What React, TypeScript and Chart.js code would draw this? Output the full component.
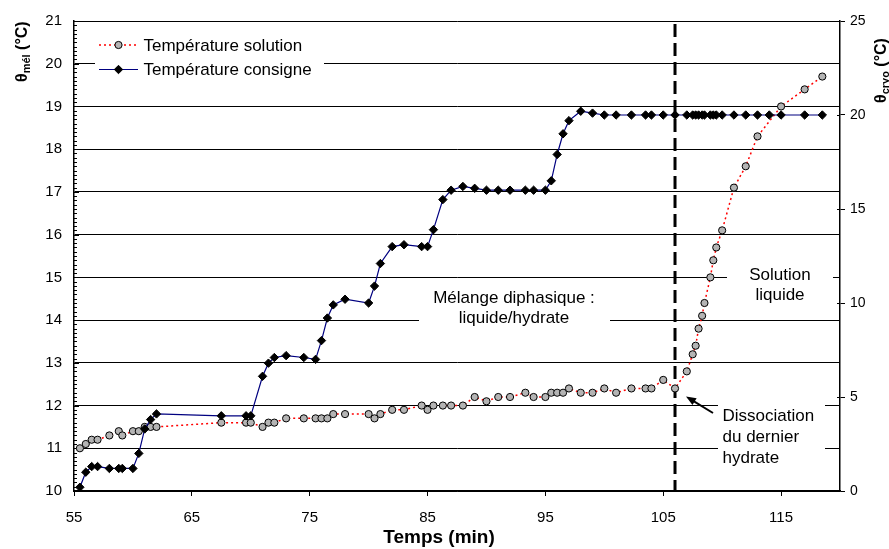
import React, { useEffect, useRef } from 'react';
import { Chart, registerables } from 'chart.js';

Chart.register(...registerables);

// ---- Data ----
const solutionTime = [55.5, 56.0, 56.5, 57.0, 58.0, 58.8, 59.1, 60.0, 60.5, 61.0, 61.5, 62.0, 67.5, 69.6, 70.0, 71.0, 71.5, 72.0, 73.0, 74.5, 75.5, 76.0, 76.5, 77.0, 78.0, 80.0, 80.5, 81.0, 82.0, 83.0, 84.5, 85.0, 85.5, 86.3, 87.0, 88.0, 89.0, 90.0, 91.0, 92.0, 93.3, 94.0, 95.0, 95.5, 96.0, 96.5, 97.0, 98.0, 99.0, 100.0, 101.0, 102.3, 103.5, 104.0, 105.0, 106.0, 107.0, 107.5, 107.75, 108.0, 108.3, 108.5, 109.0, 109.25, 109.5, 110.0, 111.0, 112.0, 113.0, 115.0, 117.0, 118.5];
const solutionTemp = [11.0, 11.1, 11.2, 11.2, 11.3, 11.4, 11.3, 11.4, 11.4, 11.5, 11.5, 11.5, 11.6, 11.6, 11.6, 11.5, 11.6, 11.6, 11.7, 11.7, 11.7, 11.7, 11.7, 11.8, 11.8, 11.8, 11.7, 11.8, 11.9, 11.9, 12.0, 11.9, 12.0, 12.0, 12.0, 12.0, 12.2, 12.1, 12.2, 12.2, 12.3, 12.2, 12.2, 12.3, 12.3, 12.3, 12.4, 12.3, 12.3, 12.4, 12.3, 12.4, 12.4, 12.4, 12.6, 12.4, 12.8, 13.2, 13.4, 13.8, 14.1, 14.4, 15.0, 15.4, 15.7, 16.1, 17.1, 17.6, 18.3, 19.0, 19.4, 19.7];

const consigneTime = [55.5, 56.0, 56.5, 57.0, 58.0, 58.8, 59.1, 60.0, 60.5, 61.0, 61.5, 62.0, 67.5, 69.6, 70.0, 71.0, 71.5, 72.0, 73.0, 74.5, 75.5, 76.0, 76.5, 77.0, 78.0, 80.0, 80.5, 81.0, 82.0, 83.0, 84.5, 85.0, 85.5, 86.3, 87.0, 88.0, 89.0, 90.0, 91.0, 92.0, 93.3, 94.0, 95.0, 95.5, 96.0, 96.5, 97.0, 98.0, 99.0, 100.0, 101.0, 102.3, 103.5, 104.0, 105.0, 106.0, 107.0, 107.5, 107.75, 108.0, 108.3, 108.5, 109.0, 109.25, 109.5, 110.0, 111.0, 112.0, 113.0, 114.0, 115.0, 117.0, 118.5];
const consigneTemp = [0.2, 1.0, 1.3, 1.3, 1.2, 1.2, 1.2, 1.2, 2.0, 3.3, 3.8, 4.1, 4.0, 4.0, 4.0, 6.1, 6.8, 7.1, 7.2, 7.1, 7.0, 8.0, 9.2, 9.9, 10.2, 10.0, 10.9, 12.1, 13.0, 13.1, 13.0, 13.0, 13.9, 15.5, 16.0, 16.2, 16.1, 16.0, 16.0, 16.0, 16.0, 16.0, 16.0, 16.5, 17.9, 19.0, 19.7, 20.2, 20.1, 20.0, 20.0, 20.0, 20.0, 20.0, 20.0, 20.0, 20.0, 20.0, 20.0, 20.0, 20.0, 20.0, 20.0, 20.0, 20.0, 20.0, 20.0, 20.0, 20.0, 20.0, 20.0, 20.0, 20.0];

const xTickValues = [55, 65, 75, 85, 95, 105, 115];
const leftTickValues = [10, 11, 12, 13, 14, 15, 16, 17, 18, 19, 20, 21];
const rightTickValues = [0, 5, 10, 15, 20, 25];
const dissociationTime = 106;
const dissociationTemp = 12.4;

const seriesLabels = ['Température solution', 'Température consigne'];
const FONT = '"Liberation Sans", Arial, Helvetica, sans-serif';

const decorPlugin = {
  id: 'decor',
  beforeDatasetsDraw(chart: any) {
    const { ctx, chartArea: ca, scales } = chart;
    const y = scales.y;
    const y2 = scales.y2;
    const x = scales.x;
    ctx.save();
    // white boxes behind texts (interrupt gridlines)
    ctx.fillStyle = '#fff';
    ctx.fillRect(95, 30, 229, 55);
    ctx.fillRect(419, 282, 191, 48);
    ctx.fillRect(727, 258, 106, 47);
    ctx.fillRect(718, 398, 107, 70);
    // minor ticks on left axis
    ctx.strokeStyle = '#000';
    ctx.lineWidth = 1;
    ctx.beginPath();
    for (let i = 0; i <= 110; i++) {
      const v = 10 + i * 0.1;
      const py = Math.round(y.getPixelForValue(v)) + 0.5;
      const len = i % 10 === 0 ? 5 : 3;
      ctx.moveTo(ca.left, py);
      ctx.lineTo(ca.left + len, py);
    }
    // inward part of right ticks
    rightTickValues.forEach((v) => {
      const py = Math.round(y2.getPixelForValue(v)) + 0.5;
      ctx.moveTo(ca.right - 3, py);
      ctx.lineTo(ca.right, py);
    });
    ctx.stroke();
    // dashed vertical line
    const dx = x.getPixelForValue(dissociationTime);
    ctx.beginPath();
    ctx.setLineDash([13, 6]);
    ctx.lineWidth = 3;
    ctx.moveTo(dx, ca.top + 3);
    ctx.lineTo(dx, ca.bottom);
    ctx.stroke();
    ctx.setLineDash([]);
    ctx.restore();
  },
  afterDatasetsDraw(chart: any) {
    const { ctx, scales } = chart;
    const x = scales.x;
    const y = scales.y;
    ctx.save();
    ctx.fillStyle = '#000';
    ctx.font = `17px ${FONT}`;
    ctx.textBaseline = 'alphabetic';
    // Mélange diphasique
    ctx.textAlign = 'center';
    ctx.fillText('Mélange diphasique :', 514, 302.5);
    ctx.fillText('liquide/hydrate', 514, 322.5);
    // Solution liquide
    ctx.fillText('Solution', 780, 279.5);
    ctx.fillText('liquide', 780, 299.5);
    // Dissociation
    ctx.textAlign = 'left';
    ctx.fillText('Dissociation', 722.5, 420.5);
    ctx.fillText('du dernier', 722.5, 441.5);
    ctx.fillText('hydrate', 722.5, 462.5);
    // arrow
    const tx = x.getPixelForValue(dissociationTime) + 11;
    const ty = y.getPixelForValue(dissociationTemp) + 8;
    const fx = 713, fy = 413;
    const ang = Math.atan2(ty - fy, tx - fx);
    ctx.strokeStyle = '#000';
    ctx.lineWidth = 2;
    ctx.beginPath();
    ctx.moveTo(fx, fy);
    ctx.lineTo(tx - Math.cos(ang) * 6, ty - Math.sin(ang) * 6);
    ctx.stroke();
    ctx.beginPath();
    ctx.moveTo(tx, ty);
    ctx.lineTo(tx - Math.cos(ang) * 10 + Math.sin(ang) * 4, ty - Math.sin(ang) * 10 - Math.cos(ang) * 4);
    ctx.lineTo(tx - Math.cos(ang) * 10 - Math.sin(ang) * 4, ty - Math.sin(ang) * 10 + Math.cos(ang) * 4);
    ctx.closePath();
    ctx.fill();

    // Legend
    const ds = chart.data.datasets;
    const rows = [44.5, 69];
    rows.forEach((ry, i) => {
      const d = ds[i];
      ctx.beginPath();
      ctx.strokeStyle = d.borderColor;
      ctx.lineWidth = d.borderWidth;
      ctx.setLineDash(d.borderDash || []);
      ctx.moveTo(99, ry + 0.5);
      ctx.lineTo(138, ry + 0.5);
      ctx.stroke();
      ctx.setLineDash([]);
      ctx.beginPath();
      if (d.pointStyle === 'circle') {
        ctx.arc(118.5, ry + 0.5, d.pointRadius, 0, Math.PI * 2);
      } else {
        const r = d.pointRadius;
        ctx.moveTo(118.5, ry + 0.5 - r);
        ctx.lineTo(118.5 + r, ry + 0.5);
        ctx.lineTo(118.5, ry + 0.5 + r);
        ctx.lineTo(118.5 - r, ry + 0.5);
        ctx.closePath();
      }
      ctx.fillStyle = d.pointBackgroundColor;
      ctx.fill();
      ctx.strokeStyle = d.pointBorderColor;
      ctx.lineWidth = 1;
      ctx.stroke();
      ctx.fillStyle = '#000';
      ctx.font = `17px ${FONT}`;
      ctx.textAlign = 'left';
      ctx.fillText(d.label, 143.5, ry + 6.3);
    });
    ctx.restore();
  },
  afterDraw(chart: any) {
    const { ctx } = chart;
    ctx.save();
    ctx.fillStyle = '#000';
    ctx.textBaseline = 'alphabetic';
    // X title
    ctx.textAlign = 'center';
    ctx.font = `bold 19px ${FONT}`;
    ctx.fillText('Temps (min)', 439, 542.7);
    // Y titles (rotated, with subscript)
    const drawTitle = (bx: number, by: number, sub: string) => {
      ctx.save();
      ctx.translate(bx, by);
      ctx.rotate(-Math.PI / 2);
      ctx.textAlign = 'left';
      ctx.font = `bold 16px ${FONT}`;
      ctx.fillText('θ', 0, 0);
      let w = ctx.measureText('θ').width;
      ctx.font = `bold 11px ${FONT}`;
      ctx.fillText(sub, w, 3);
      w += ctx.measureText(sub).width;
      ctx.font = `bold 16px ${FONT}`;
      ctx.fillText(' (°C)', w, 0);
      ctx.restore();
    };
    drawTitle(26.5, 82, 'mél');
    drawTitle(886, 103, 'cryo');
    ctx.restore();
  },
};

export default function App() {
  const ref = useRef<HTMLCanvasElement | null>(null);
  useEffect(() => {
    document.body.style.margin = '0';
    const canvas = ref.current;
    if (!canvas) return;
    const chart = new Chart(canvas, {
      type: 'line',
      data: {
        datasets: [
          {
            label: seriesLabels[0],
            data: solutionTime.map((t, i) => ({ x: t, y: solutionTemp[i] })),
            yAxisID: 'y',
            borderColor: '#ff0000',
            borderWidth: 1.5,
            borderDash: [2, 3],
            pointStyle: 'circle',
            pointRadius: 3.6,
            pointBackgroundColor: '#b4b4b4',
            pointBorderColor: '#000',
            pointBorderWidth: 1,
            tension: 0,
            order: 2,
          },
          {
            label: seriesLabels[1],
            data: consigneTime.map((t, i) => ({ x: t, y: consigneTemp[i] })),
            yAxisID: 'y2',
            borderColor: '#000080',
            borderWidth: 1.2,
            pointStyle: 'rectRot',
            pointRadius: 4.2,
            pointBackgroundColor: '#000',
            pointBorderColor: '#000',
            pointBorderWidth: 1,
            tension: 0,
            order: 1,
          },
        ] as any,
      },
      options: {
        animation: false,
        responsive: false,
        maintainAspectRatio: false,
        layout: { padding: { top: 18, left: 0, right: 0, bottom: 0 } },
        plugins: { legend: { display: false }, tooltip: { enabled: false } },
        scales: {
          x: {
            type: 'linear',
            position: 'bottom',
            min: 55,
            max: 120,
            afterBuildTicks: (s: any) => { s.ticks = xTickValues.map((v) => ({ value: v })); },
            afterFit: (s: any) => { s.height = 58; },
            grid: { display: true, drawOnChartArea: false, drawTicks: true, tickLength: 5, color: '#000', lineWidth: 1 },
            border: { display: true, color: '#000', width: 1.5 },
            ticks: { font: { family: FONT, size: 15 }, color: '#000', padding: 13, maxRotation: 0 },
          },
          y: {
            type: 'linear',
            position: 'left',
            min: 10,
            max: 21,
            afterBuildTicks: (s: any) => { s.ticks = leftTickValues.map((v) => ({ value: v })); },
            afterFit: (s: any) => { s.width = 74; },
            grid: { display: true, drawOnChartArea: true, drawTicks: false, color: '#000', lineWidth: 1 },
            border: { display: true, color: '#000', width: 1.5 },
            ticks: { font: { family: FONT, size: 15 }, color: '#000', padding: 12 },
          },
          y2: {
            type: 'linear',
            position: 'right',
            min: 0,
            max: 25,
            afterBuildTicks: (s: any) => { s.ticks = rightTickValues.map((v) => ({ value: v })); },
            afterFit: (s: any) => { s.width = 49; },
            grid: { display: true, drawOnChartArea: false, drawTicks: true, tickLength: 5, color: '#000', lineWidth: 1 },
            border: { display: true, color: '#000', width: 1.5 },
            ticks: { font: { family: FONT, size: 14 }, color: '#000', padding: 5 },
          },
        },
      },
      plugins: [decorPlugin],
    } as any);
    return () => chart.destroy();
  }, []);
  return <canvas ref={ref} width={889} height={549} style={{ display: 'block' }} />;
}
